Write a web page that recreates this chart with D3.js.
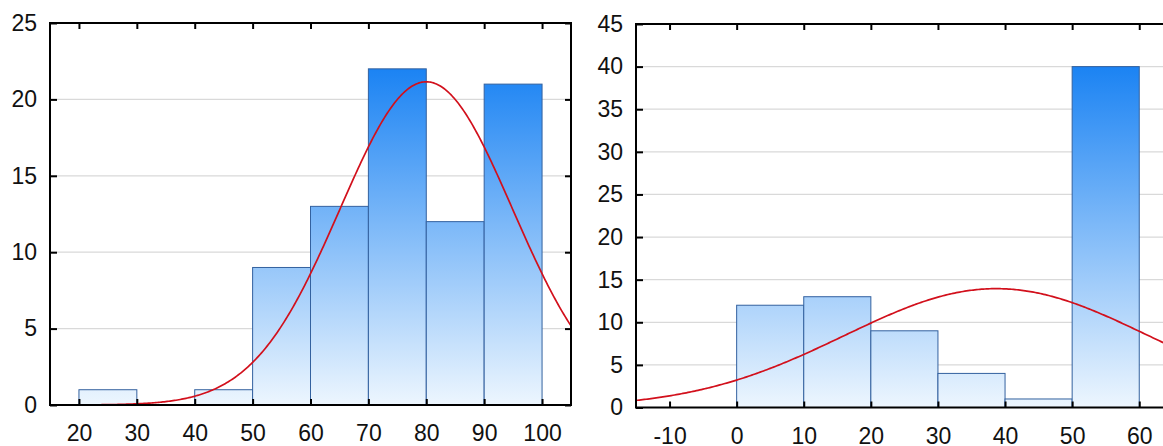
<!DOCTYPE html>
<html>
<head>
<meta charset="utf-8">
<script src="https://cdn.jsdelivr.net/npm/d3@7"></script>
<style>
  html, body { margin: 0; padding: 0; background: #fff; }
  svg { display: block; font-family: "Liberation Sans", Arial, sans-serif; }
</style>
</head>
<body>
<svg id="chart" width="1163" height="446"></svg>
<script>
// Left histogram: bin lower edges (width 10) and counts
const leftBinStarts = [20, 30, 40, 50, 60, 70, 80, 90];
const leftCounts = [1, 0, 1, 9, 13, 22, 12, 21];
const leftXTicks = [20, 30, 40, 50, 60, 70, 80, 90, 100];
const leftYTicks = [0, 5, 10, 15, 20, 25];
const leftFit = [80, 14.9];          // fitted normal: mean, sd

// Right histogram
const rightBinStarts = [0, 10, 20, 30, 40, 50];
const rightCounts = [12, 13, 9, 4, 1, 40];
const rightXTicks = [-10, 0, 10, 20, 30, 40, 50, 60];
const rightYTicks = [0, 5, 10, 15, 20, 25, 30, 35, 40, 45];
const rightFit = [38.7, 22.6];

const binWidth = 10;
const labelFormat = v => String(v);   // plain hyphen for negatives
const svg = d3.select("#chart");
const defs = svg.append("defs");

function drawPanel(id, cfg) {
  const x = d3.scaleLinear().domain(cfg.xDomain).range(cfg.xRange);
  const y = d3.scaleLinear().domain(cfg.yDomain).range(cfg.yRange);
  const [x0, x1] = cfg.xRange;
  const [yb, yt] = cfg.yRange;
  const maxCount = d3.max(cfg.counts);
  const total = d3.sum(cfg.counts);

  // vertical fill shading, light at zero, saturated at the tallest bar
  const grad = defs.append("linearGradient")
    .attr("id", id + "-fill")
    .attr("gradientUnits", "userSpaceOnUse")
    .attr("x1", 0).attr("x2", 0)
    .attr("y1", y(0)).attr("y2", y(maxCount));
  grad.append("stop").attr("offset", 0).attr("stop-color", "#edf6fe");
  grad.append("stop").attr("offset", 1).attr("stop-color", "#1b83f3");

  defs.append("clipPath").attr("id", id + "-clip")
    .append("rect").attr("x", x0).attr("y", yt)
    .attr("width", x1 - x0).attr("height", yb - yt);

  const g = svg.append("g");

  // horizontal grid
  g.append("g").selectAll("line")
    .data(cfg.yTicks.filter(v => v > cfg.yDomain[0] && v < cfg.yDomain[1]))
    .join("line")
    .attr("x1", x0).attr("x2", x1)
    .attr("y1", d => y(d)).attr("y2", d => y(d))
    .attr("stroke", "#d9d9d9").attr("stroke-width", 1.2);

  const plot = g.append("g").attr("clip-path", `url(#${id}-clip)`);

  // bars
  const bins = cfg.binStarts.map((s, i) => ({ s, c: cfg.counts[i] })).filter(d => d.c > 0);
  plot.append("g").selectAll("rect")
    .data(bins)
    .join("rect")
    .attr("x", d => x(d.s))
    .attr("width", d => x(d.s + binWidth) - x(d.s))
    .attr("y", d => y(d.c))
    .attr("height", d => y(0) - y(d.c))
    .attr("fill", `url(#${id}-fill)`)
    .attr("stroke", "#33619f").attr("stroke-width", 1);

  // fitted normal curve, scaled to counts per bin
  const [mu, sd] = cfg.fit;
  const density = v => total * binWidth / (sd * Math.sqrt(2 * Math.PI)) *
    Math.exp(-((v - mu) ** 2) / (2 * sd * sd));
  const xs = d3.range(cfg.xDomain[0], cfg.xDomain[1] + 0.01, 0.25);
  plot.append("path")
    .datum(xs)
    .attr("fill", "none")
    .attr("stroke", "#d2101c").attr("stroke-width", 1.7)
    .attr("d", d3.line().x(v => x(v)).y(v => y(density(v))));

  // axes with inward ticks
  const bottom = g.append("g").attr("transform", `translate(0,${yb})`)
    .call(d3.axisBottom(x).tickValues(cfg.xTicks).tickFormat(labelFormat)
      .tickSizeInner(-6).tickSizeOuter(0).tickPadding(0));
  bottom.selectAll("text").attr("dy", null).attr("y", cfg.xLabelY);
  const top = g.append("g").attr("transform", `translate(0,${yt})`)
    .call(d3.axisTop(x).tickValues(cfg.xTicks).tickSizeInner(-6).tickSizeOuter(0).tickFormat(""));
  const left = g.append("g").attr("transform", `translate(${x0},0)`)
    .call(d3.axisLeft(y).tickValues(cfg.yTicks).tickFormat(labelFormat)
      .tickSizeInner(-7).tickSizeOuter(0).tickPadding(13));
  const right = g.append("g").attr("transform", `translate(${x1},0)`)
    .call(d3.axisRight(y).tickValues(cfg.yTicks).tickSizeInner(-6).tickSizeOuter(0).tickFormat(""));

  [bottom, top, left, right].forEach(a => {
    a.select(".domain").remove();
    a.selectAll(".tick line").attr("stroke", "#000").attr("stroke-width", 2);
    a.selectAll("text").attr("fill", "#111").attr("font-size", 23)
      .attr("font-family", "'Liberation Sans', Arial, sans-serif");
  });

  // frame
  g.append("rect")
    .attr("x", x0).attr("y", yt)
    .attr("width", x1 - x0).attr("height", yb - yt)
    .attr("fill", "none").attr("stroke", "#000").attr("stroke-width", 2);
}

drawPanel("left", {
  binStarts: leftBinStarts, counts: leftCounts, fit: leftFit,
  xTicks: leftXTicks, yTicks: leftYTicks,
  xDomain: [15, 105], xRange: [50, 571],
  yDomain: [0, 25], yRange: [405, 23],
  xLabelY: 36
});

drawPanel("right", {
  binStarts: rightBinStarts, counts: rightCounts, fit: rightFit,
  xTicks: rightXTicks, yTicks: rightYTicks,
  xDomain: [-15, 65], xRange: [636, 1172.8],
  yDomain: [0, 45], yRange: [407.5, 24],
  xLabelY: 36.5
});
</script>
</body>
</html>
